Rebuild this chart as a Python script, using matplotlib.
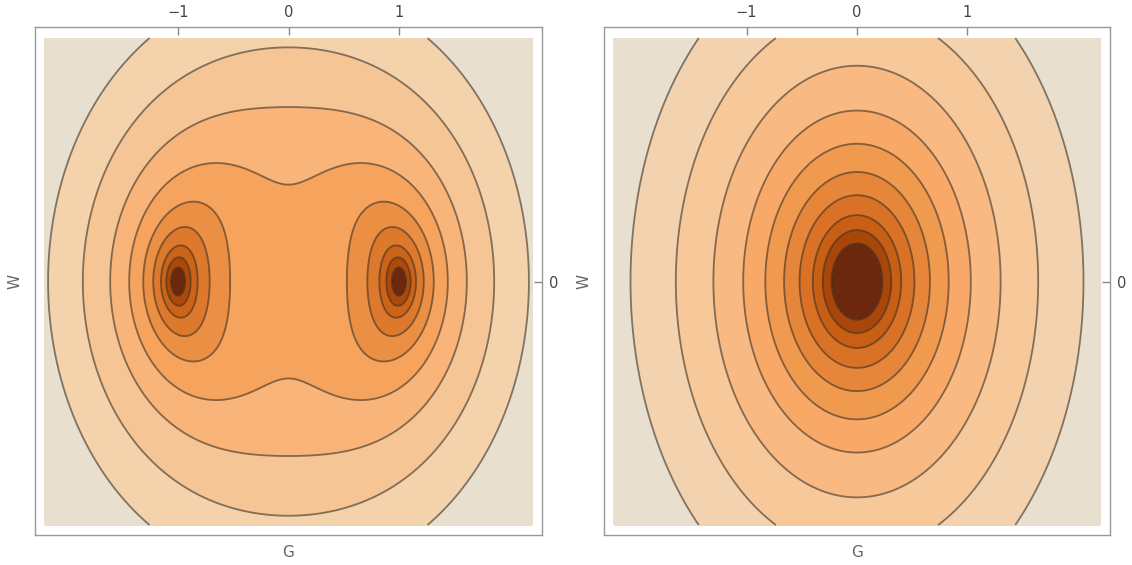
import numpy as np
import matplotlib
matplotlib.use('Agg')
import matplotlib.pyplot as plt
from matplotlib.colors import LinearSegmentedColormap

# contour levels (value of the field where each line crosses W = 0)
left_levels = [0.128, 0.219, 0.327, 0.493, 0.722, 1.071, 1.595, 2.452, 3.717]
right_levels = [0.23, 0.31, 0.40, 0.52, 0.66, 0.83, 1.03, 1.30, 1.64, 2.05]
wells = [-1.0, 1.0]
w_stretch_left = 0.5
w_stretch_right = 1.5
g_range = [-2.2, 2.2]
w_range = [-2.2, 2.2]
x_ticks = [-1, 0, 1]
y_ticks = [0]

cmap = LinearSegmentedColormap.from_list('mma', [
    '#E8DFCE', '#F3D3AE', '#F6C89A', '#F8B982', '#F8A967', '#F09A50',
    '#E6863A', '#D97226', '#C85F14', '#AA470A', '#6C280E'])

g = np.linspace(g_range[0], g_range[1], 900)
w = np.linspace(w_range[0], w_range[1], 900)
G, W = np.meshgrid(g, w)

# two wells at G = -1, 1
a = w_stretch_left
V = (G**2 + a * W**2)**2 - 2 * wells[1] * G**2 + wells[1]**2
ZL = np.sqrt(np.clip(V, 0, None))

# single well at the origin
ZR = np.sqrt(G**2 + (W / w_stretch_right)**2)

fig = plt.figure(figsize=(11.32, 5.65), dpi=100)
ax1 = fig.add_axes([35 / 1132, 30 / 565, 507 / 1132, 508 / 565])
ax2 = fig.add_axes([604 / 1132, 30 / 565, 506 / 1132, 508 / 565])

line_col = (0.22, 0.17, 0.12)

for ax, Z, lev in [(ax1, ZL, left_levels), (ax2, ZR, right_levels)]:
    n = len(lev) + 1
    cols = [cmap(1 - i / (n - 1)) for i in range(n)]
    ax.contourf(G, W, Z, [0] + lev + [1e6], colors=cols)
    ax.contour(G, W, Z, lev, colors=[line_col], linewidths=1.3, alpha=0.6)
    ax.set_xlim(-2.29, 2.29)
    ax.set_ylim(-2.29, 2.30)
    ax.set_xticks(x_ticks)
    ax.set_yticks(y_ticks)
    ax.xaxis.tick_top()
    ax.yaxis.tick_right()
    ax.tick_params(direction='in', length=6, width=1, color='#888888',
                   labelcolor='#444444', labelsize=10.5, pad=5)
    for s in ax.spines.values():
        s.set_color('#999999')
        s.set_linewidth(1)
    ax.set_xlabel('G', color='#666666', fontsize=11, labelpad=7)
    ax.xaxis.set_label_position('bottom')
    ax.set_ylabel('W', color='#666666', fontsize=11, labelpad=9)
    ax.yaxis.set_label_position('left')

fig.savefig('out.png', dpi=100)
